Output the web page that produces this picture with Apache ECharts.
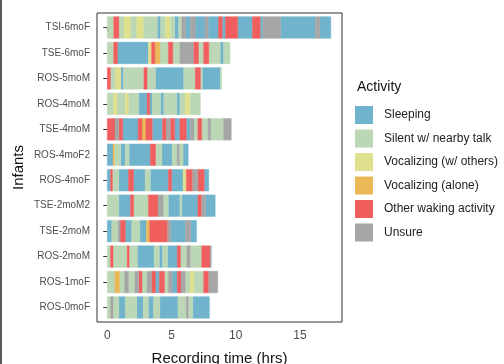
<!DOCTYPE html>
<html>
<head>
<meta charset="utf-8">
<script src="https://cdn.jsdelivr.net/npm/echarts@6/dist/echarts.min.js"></script>
<style>html,body{margin:0;padding:0;background:#fff}#c{width:504px;height:364px}</style>
</head>
<body>
<div id="c"></div>
<script>
// ---- data ----
const infants = ['TSI-6moF','TSE-6moF','ROS-5moM','ROS-4moM','TSE-4moM','ROS-4moF2','ROS-4moF','TSE-2moM2','TSE-2moM','ROS-2moM','ROS-1moF','ROS-0moF'];
const activityCodes = ['S','G','Y','O','R','U'];
const activityNames = ['Sleeping','Silent w/ nearby talk','Vocalizing (w/ others)','Vocalizing (alone)','Other waking activity','Unsure'];
const activityColors = ['#6FB3CD','#BCD7B5','#DFE08E','#EBB857','#F15E5E','#A6A6A6'];
const xTicks = [0, 5, 10, 15];

// segments: [activity code, duration in hours], in recording order
const seg_TSI_6moF = [['G',.5],['R',.4],['G',.4],['Y',.5],['G',.5],['Y',.5],['G',1.1],['S',.25],['G',.4],['Y',.35],['G',.35],['S',.3],['G',.25],['U',.3],['S',.35],['U',.4],['S',.75],['U',.25],['S',.8],['R',.3],['S',.25],['R',.95],['S',1.15],['R',.6],['S',.2],['U',1.4],['S',2.7],['U',.35],['S',.85]];
const seg_TSE_6moF = [['G',.5],['R',.3],['S',2.4],['Y',.25],['R',.25],['O',.4],['G',.65],['R',.35],['G',.55],['U',1.05],['R',.4],['G',.4],['R',.4],['G',.9],['S',.25],['G',.5]];
const seg_ROS_5moM = [['R',.25],['G',.4],['Y',.4],['S',.2],['G',1.6],['R',.25],['G',.65],['S',2.2],['G',.9],['R',.4],['G',.15],['S',1.4],['G',.1]];
const seg_ROS_4moM = [['G',.5],['Y',.25],['G',.65],['Y',.25],['G',.8],['S',.65],['R',.2],['S',.2],['G',.65],['S',.25],['G',1.0],['S',.25],['G',.4],['Y',.4],['G',.8]];
const seg_TSE_4moM = [['R',.6],['U',.3],['R',.3],['S',1.2],['R',.3],['O',.3],['R',.5],['S',.8],['R',.3],['U',.3],['R',.35],['S',.4],['R',.5],['S',.3],['U',.3],['G',.3],['R',.3],['G',.5],['U',.2],['G',1.0],['U',.6]];
const seg_ROS_4moF2 = [['S',.45],['O',.1],['G',.5],['S',.35],['G',.3],['S',1.65],['R',.4],['G',.5],['S',.8],['G',.4],['U',.15],['G',.3],['S',.4]];
const seg_ROS_4moF = [['S',.25],['R',.15],['G',.5],['S',.75],['R',.4],['S',.9],['G',.4],['S',1.4],['R',.25],['S',.9],['Y',.25],['R',.5],['U',.4],['R',.5],['S',.35]];
const seg_TSE_2moM2 = [['G',.9],['S',.9],['R',.25],['G',1.15],['R',.75],['U',.4],['G',.4],['S',.9],['G',.15],['S',1.25],['R',.3],['U',.3],['S',.75]];
const seg_TSE_2moM = [['S',.35],['G',.5],['U',.15],['R',.4],['S',.5],['G',.65],['S',.5],['O',.25],['R',1.4],['U',.25],['S',1.15],['U',.4],['S',.45]];
const seg_ROS_2moM = [['G',.25],['R',.2],['G',1.1],['R',.15],['G',.65],['S',1.3],['G',.4],['S',.25],['G',.4],['S',.75],['R',.25],['G',.5],['U',.25],['G',.9],['R',.65],['U',.1]];
const seg_ROS_1moF = [['G',.6],['O',.35],['G',.4],['U',.3],['G',.5],['U',.3],['R',.25],['G',.4],['U',.35],['R',.3],['S',.3],['R',.4],['G',.3],['U',.3],['S',.4],['R',.3],['U',.3],['G',.4],['Y',.3],['G',.75],['R',.4],['U',.7]];
const seg_ROS_0moF = [['G',.25],['U',.2],['G',.45],['S',.5],['G',.9],['S',.5],['G',.4],['S',.4],['G',.5],['S',1.4],['G',.65],['U',.15],['G',.35],['S',1.3]];

const rowSegments = [seg_TSI_6moF, seg_TSE_6moF, seg_ROS_5moM, seg_ROS_4moM, seg_TSE_4moM, seg_ROS_4moF2, seg_ROS_4moF, seg_TSE_2moM2, seg_TSE_2moM, seg_ROS_2moM, seg_ROS_1moF, seg_ROS_0moF];

// ---- build series data ----
const perActivity = activityCodes.map(() => []);
rowSegments.forEach((segs, row) => {
  let t = 0;
  segs.forEach(([code, d]) => {
    const k = activityCodes.indexOf(code);
    perActivity[k].push([row, t, t + d]);
    t += d;
  });
});

const BAR_H = 0.85;
function renderItem(params, api) {
  const row = api.value(0);
  const p0 = api.coord([api.value(1), row]);
  const p1 = api.coord([api.value(2), row]);
  const h = api.size([0, BAR_H])[1];
  const shape = echarts.graphic.clipRectByRect(
    { x: p0[0], y: p0[1] - h / 2, width: p1[0] - p0[0], height: h },
    { x: params.coordSys.x, y: params.coordSys.y, width: params.coordSys.width, height: params.coordSys.height }
  );
  const c = activityColors[params.seriesIndex];
  return shape && { type: 'rect', shape: shape, style: { fill: c, stroke: c, lineWidth: 0.4 } };
}

const FONT = '"Liberation Sans", Arial, sans-serif';
const chart = echarts.init(document.getElementById('c'), null, { renderer: 'canvas' });
chart.setOption({
  animation: false,
  backgroundColor: '#fff',
  textStyle: { fontFamily: FONT },
  title: {
    text: 'Activity', left: 357, top: 80, padding: 0,
    textStyle: { fontSize: 14, fontWeight: 'normal', color: '#111', fontFamily: FONT }
  },
  legend: {
    orient: 'vertical', left: 355, top: 106, padding: 0,
    icon: 'rect', itemWidth: 18, itemHeight: 18, itemGap: 5.5,
    textStyle: { fontSize: 12, color: '#222', fontFamily: FONT, padding: [0, 0, 0, 6] },
    data: activityNames
  },
  graphic: [{ type: 'rect', left: 0, top: 0, shape: { x: 0, y: 0, width: 2, height: 364 }, style: { fill: '#5a5a5a' } }],
  grid: { left: 97, right: 162, top: 13, bottom: 42, show: true, borderColor: '#333', borderWidth: 1, backgroundColor: '#fff', outerBoundsMode: 'none' },
  xAxis: {
    type: 'value', min: -0.8, max: 18.27,
    name: 'Recording time (hrs)', nameLocation: 'middle', nameGap: 29,
    nameTextStyle: { fontSize: 15, color: '#111', fontFamily: FONT },
    axisLine: { show: false },
    splitLine: { show: false },
    axisTick: { show: true, customValues: xTicks, length: 4, lineStyle: { color: '#333' } },
    axisLabel: { customValues: xTicks, fontSize: 12, color: '#4d4d4d', margin: 8, fontFamily: FONT }
  },
  yAxis: {
    type: 'value', min: -0.57, max: 11.57, inverse: true,
    name: 'Infants', nameLocation: 'middle', nameGap: 71, nameRotate: 90,
    nameTextStyle: { fontSize: 15, color: '#111', fontFamily: FONT },
    axisLine: { show: false },
    splitLine: { show: false },
    axisTick: { show: true, customValues: infants.map((_, i) => i), length: 4, lineStyle: { color: '#333' } },
    axisLabel: {
      customValues: infants.map((_, i) => i), fontSize: 10, color: '#4d4d4d', margin: 7, fontFamily: FONT,
      formatter: v => infants[Math.round(v)] || ''
    }
  },
  series: activityNames.map((name, k) => ({
    type: 'custom', name: name,
    renderItem: renderItem,
    itemStyle: { color: activityColors[k] },
    encode: { x: [1, 2], y: 0 },
    data: perActivity[k]
  }))
});
</script>
</body>
</html>
